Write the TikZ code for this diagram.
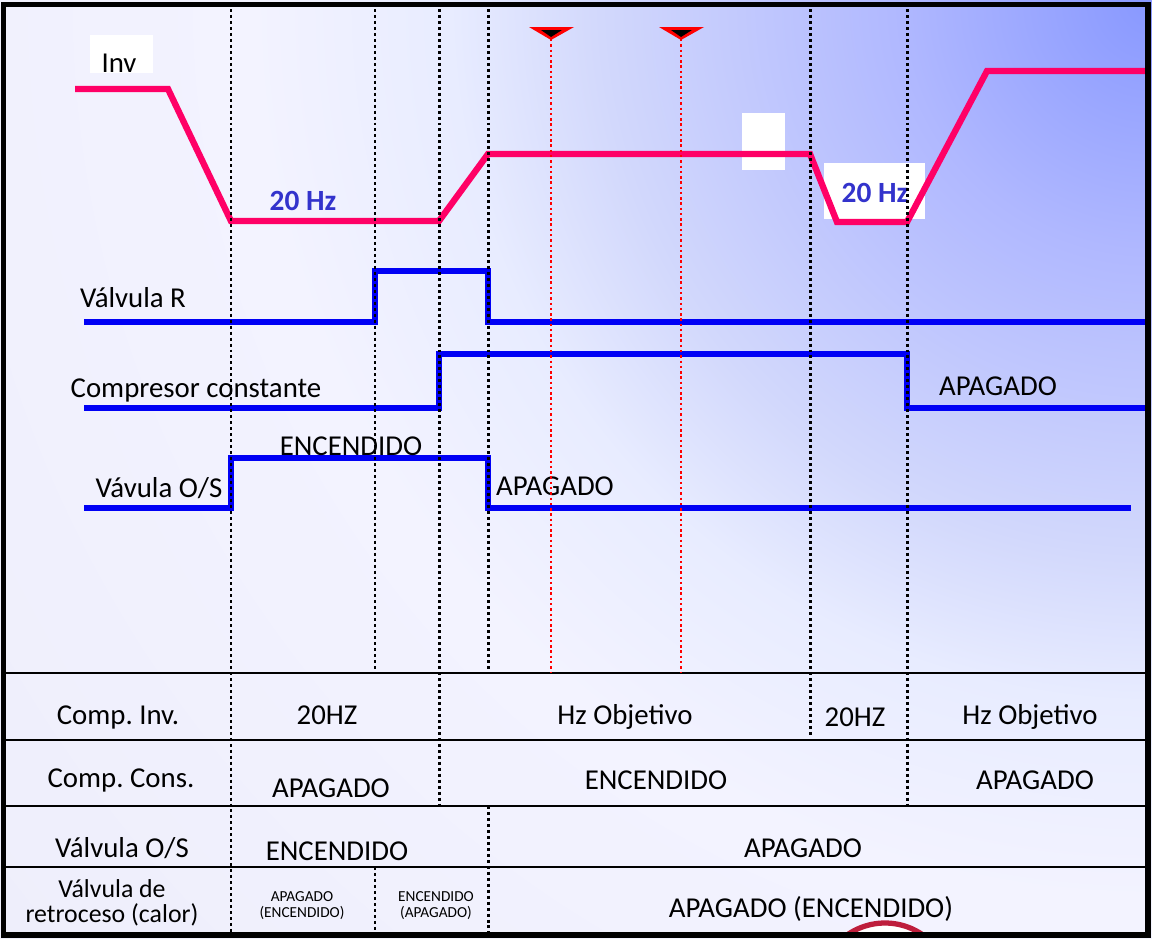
\documentclass[tikz,border=0pt]{standalone}
\usepackage{fontspec}
\setmainfont{Carlito}
\frenchspacing
\definecolor{invPink}{RGB}{255,0,102}
\definecolor{sigBlue}{RGB}{0,0,245}
\definecolor{hzBlue}{RGB}{51,51,204}
\definecolor{bgCorner}{RGB}{136,152,255}
\definecolor{bgNear}{RGB}{176,184,255}
\definecolor{bgMid}{RGB}{210,216,252}
\definecolor{bgPale}{RGB}{232,236,255}
\definecolor{bgLight}{RGB}{243,243,255}
\definecolor{bgFar}{RGB}{238,238,251}
\definecolor{markRed}{RGB}{190,30,60}
\pgfdeclareradialshading{bgGlow}{\pgfpoint{0bp}{0bp}}{color(0bp)=(bgCorner); color(4.2bp)=(bgNear); color(9.2bp)=(bgMid); color(11.7bp)=(bgPale); color(15bp)=(bgLight); color(25bp)=(bgFar); color(50bp)=(bgFar)}
\begin{document}
\begin{tikzpicture}[x=0.02cm, y=-0.02cm,
    lblStyle/.style={inner sep=0pt, anchor=base, font=\fontsize{16.4}{19}\selectfont},
    rowLblStyle/.style={inner sep=0pt, align=center, font=\fontsize{14.7}{14.2}\selectfont},
    smallStyle/.style={inner sep=0pt, align=center, font=\fontsize{8.7}{9.1}\selectfont},
    hzStyle/.style={inner sep=0pt, anchor=base, text=hzBlue, font=\fontsize{16.7}{19}\selectfont\bfseries},
    invLine/.style={line width=3.6pt, draw=invPink},
    sigLine/.style={line width=3.6pt, draw=sigBlue},
    guideLine/.style={line width=1.7pt, dash pattern=on 1.7pt off 1.7pt},
    redGuide/.style={line width=1.5pt, red, dash pattern=on 1.4pt off 1.6pt},
    rowLine/.style={line width=1.2pt}]
    \useasboundingbox (0,0) rectangle (1152,938);
    \begin{scope}
        \clip (0,0) rectangle (1152,938);
        \shade[shading=bgGlow] (1152,0) circle (1500);
    \end{scope}

    % logo peeking in at the bottom
    \begin{scope}
        \clip (6,8) rectangle (1145,932);
        \draw[line width=3pt, draw=markRed, fill=white] (885,989) circle (66);
    \end{scope}

    % white patches
    \fill[white] (90,35) rectangle (153,73);
    \fill[white] (742,113) rectangle (785,170);
    \fill[white] (824,163) rectangle (925,219);

    % waveforms
    \draw[invLine] (75,89) -- (168,89) -- (231,221) -- (439,221) -- (488,154) -- (810,154) -- (837,222) -- (907,222) -- (987,71) -- (1145,71);
    \draw[sigLine] (84,322) -- (375,322) -- (375,271) -- (488,271) -- (488,322) -- (1145,322);
    \draw[sigLine] (84,408) -- (439,408) -- (439,354) -- (907,354) -- (907,408) -- (1145,408);
    \draw[sigLine] (84,508) -- (231,508) -- (231,458) -- (488,458) -- (488,508) -- (1131,508);

    \node[lblStyle] (invLbl) at (119,72) {Inv};
    \node[hzStyle] (hzLow) at (303,210) {20 Hz};
    \node[hzStyle] (hzLowB) at (875,202) {20 Hz};
    \node[lblStyle] (valvR) at (133,307) {Válvula R};
    \node[lblStyle] (compC) at (196,397) {Compresor constante};
    \node[lblStyle] (valvOS) at (159,497) {Vávula O/S};
    \node[lblStyle] (osOn) at (351,455) {ENCENDIDO};
    \node[lblStyle] (osOff) at (555,495) {APAGADO};
    \node[lblStyle] (ccOff) at (998,395) {APAGADO};

    % table
    \draw[rowLine] (6,673) -- (1145,673);
    \draw[rowLine] (6,740) -- (1145,740);
    \draw[rowLine] (6,806) -- (1145,806);
    \draw[rowLine] (6,867) -- (1145,867);

    \node[lblStyle] (rowInv) at (118,724) {Comp. Inv.};
    \node[lblStyle] (inv20a) at (327,724) {20HZ};
    \node[lblStyle] (invHzA) at (625,724) {Hz Objetivo};
    \node[lblStyle] (inv20b) at (855,726) {20HZ};
    \node[lblStyle] (invHzB) at (1030,724) {Hz Objetivo};
    \node[lblStyle] (rowCons) at (121,787) {Comp. Cons.};
    \node[lblStyle] (consOffA) at (331,797) {APAGADO};
    \node[lblStyle] (consOn) at (656,789) {ENCENDIDO};
    \node[lblStyle] (consOffB) at (1035,789) {APAGADO};
    \node[lblStyle] (rowOS) at (122,857) {Válvula O/S};
    \node[lblStyle] (osOnT) at (337,860) {ENCENDIDO};
    \node[lblStyle] (osOffT) at (803,857) {APAGADO};
    \node[rowLblStyle] (rowRet) at (112,903) {Válvula de\\retroceso (calor)};
    \node[smallStyle] (retA) at (302,906) {APAGADO\\(ENCENDIDO)};
    \node[smallStyle] (retB) at (436,906) {ENCENDIDO\\(APAGADO)};
    \node[lblStyle] (retC) at (811,917) {APAGADO (ENCENDIDO)};

    % time marks
    \draw[guideLine] (231,9) -- (231,932);
    \draw[guideLine] (375,9) -- (375,673) (375,867) -- (375,932);
    \draw[guideLine] (439,9) -- (439,806);
    \draw[guideLine] (488,9) -- (488,673) (488,806) -- (488,932);
    \draw[guideLine] (810,9) -- (810,735);
    \draw[guideLine] (907,9) -- (907,806);

    \draw[redGuide] (551,39) -- (551,673);
    \draw[redGuide] (681,39) -- (681,673);
    \fill[red] (529,27) -- (574,27) -- (551,40) -- cycle;
    \fill[black] (541,30) -- (562,30) -- (551,37) -- cycle;
    \fill[red] (659,27) -- (704,27) -- (681,40) -- cycle;
    \fill[black] (671,30) -- (692,30) -- (681,37) -- cycle;

    \draw[line width=3.4pt] (3.5,4.5) rectangle (1148,934.5);
\end{tikzpicture}
\end{document}
